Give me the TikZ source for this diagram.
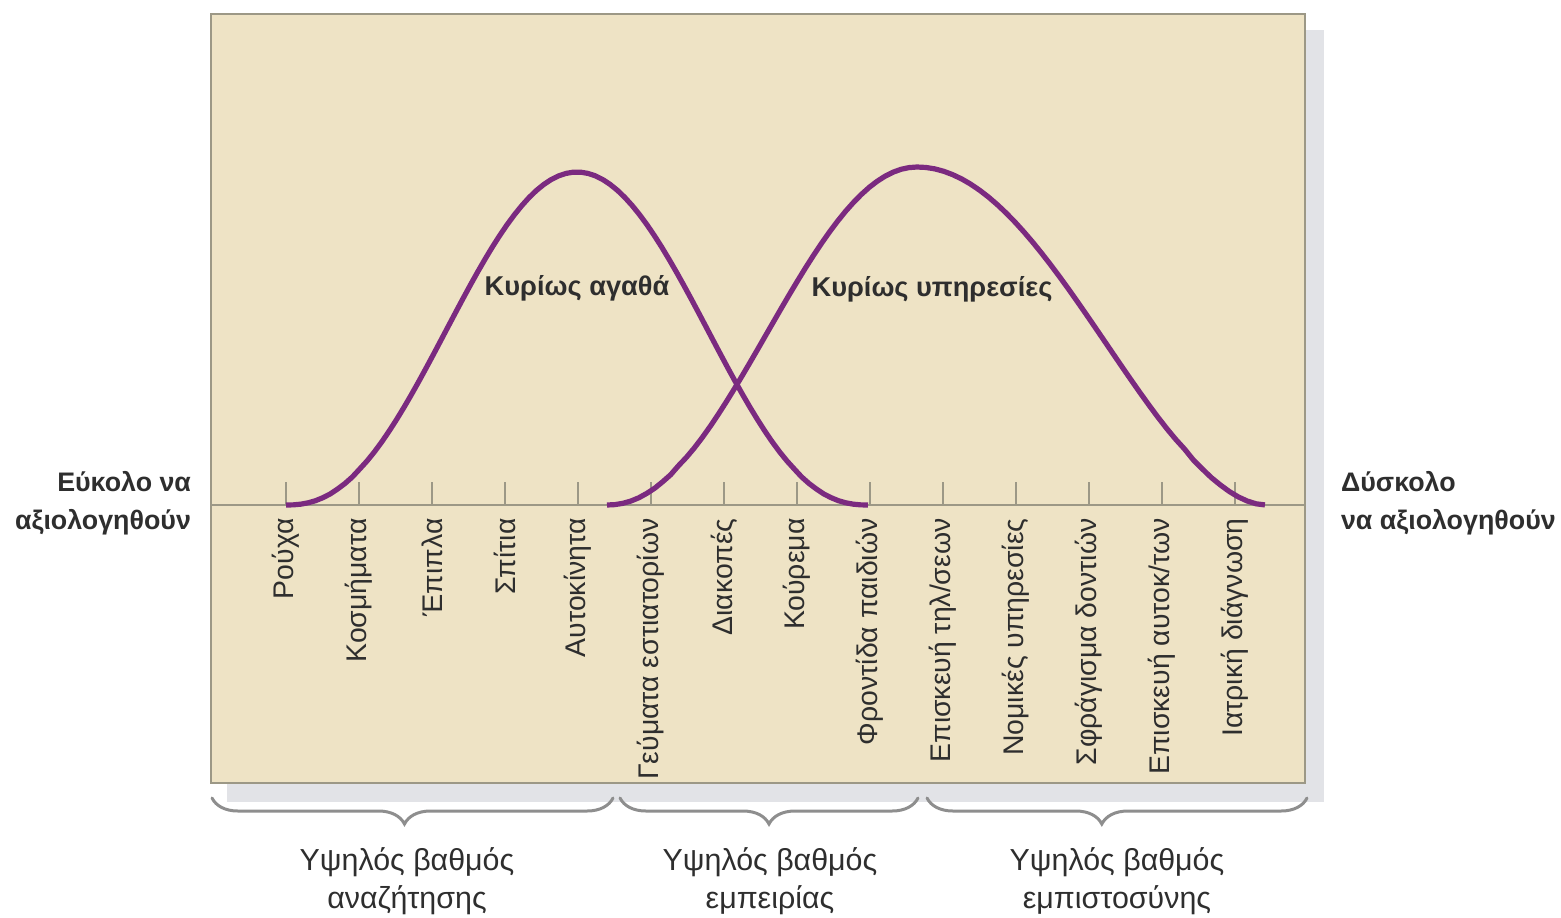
\documentclass[tikz,border=0pt]{standalone}
\usepackage{fontspec}
\setmainfont{Liberation Sans}
\usetikzlibrary{decorations.pathreplacing}
\definecolor{panel}{HTML}{EEE3C5}
\definecolor{shadowgray}{HTML}{E2E3E7}
\definecolor{frame}{HTML}{9C9886}
\definecolor{bellpurple}{HTML}{7B2A80}
\definecolor{ink}{HTML}{2E2E2E}
\definecolor{bracegray}{HTML}{8E8E8E}
\begin{document}
\begin{tikzpicture}[x=0.5pt,y=-0.5pt,
    every node/.style={text=ink},
    item/.style={rotate=90,anchor=east,inner sep=2pt,font=\fontsize{14.2}{16}\selectfont},
    side/.style={font=\bfseries\fontsize{13.4}{19}\selectfont},
    bellnote/.style={font=\bfseries\fontsize{13.6}{15}\selectfont},
    degree/.style={align=center,font=\fontsize{15.2}{19}\selectfont},
    bell/.style={bellpurple,line width=2.6pt},
    group/.style={decorate,decoration={brace,mirror,amplitude=13pt,aspect=#1},
      bracegray,line width=1.5pt,line cap=round}]
  \useasboundingbox (0,0) rectangle (1561,917);
  % panel with its shadow
  \fill[shadowgray] (227,30) rectangle (1324,802);
  \draw[frame,fill=panel,line width=0.8pt] (211,14) rectangle (1305,783);
  \draw[frame,line width=1pt] (211,505) -- (1305,505);
  % ticks and items
  \foreach \lbl [count=\i from 0] in {Ρούχα,Κοσμήματα,Έπιπλα,Σπίτια,Αυτοκίνητα,
      Γεύματα εστιατορίων,Διακοπές,Κούρεμα,Φροντίδα παιδιών,Επισκευή τηλ/σεων,
      Νομικές υπηρεσίες,Σφράγισμα δοντιών,Επισκευή αυτοκ/των,Ιατρική διάγνωση}{
    \draw[frame,line width=0.7pt] ({286+73*\i},505) -- ++(0,-23);
    \node[item] (item\i) at ({286+73*\i},514) {\lbl};
  }
  % the two bells
  \draw[bell] plot[domain=-1:1,samples=80,variable=\t]
    ({577+291*\t},{505-333*(max(1+cos(180*\t),0.0002)/2)^1.18});
  \draw[bell] plot[domain=-1:0,samples=40,variable=\t]
    ({917+310*\t},{505-338*(max(1+cos(180*\t),0.0002)/2)^1.05})
    -- plot[domain=0:1,samples=40,variable=\t]
    ({917+348*\t},{505-338*(max(1+cos(180*\t),0.0002)/2)^0.88});
  \node[bellnote] (goods) at (577,288) {Κυρίως αγαθά};
  \node[bellnote] (services) at (932,289) {Κυρίως υπηρεσίες};
  % ends of the scale
  \node[side,align=right,anchor=east] (easy) at (198,503) {Εύκολο να\\αξιολογηθούν};
  \node[side,align=left,anchor=west] (hard) at (1334,503) {Δύσκολο\\να αξιολογηθούν};
  % groups
  \coordinate (s1) at (212,798); \coordinate (e1) at (613,798);
  \coordinate (s2) at (620,798); \coordinate (e2) at (918,798);
  \coordinate (s3) at (927,798); \coordinate (e3) at (1307,798);
  \draw[group=0.48] (s1) -- (e1);
  \draw[group=0.5] (s2) -- (e2);
  \draw[group=0.46] (s3) -- (e3);
  \node[degree] (search) at (407,881) {Υψηλός βαθμός\\αναζήτησης};
  \node[degree] (experience) at (770,881) {Υψηλός βαθμός\\εμπειρίας};
  \node[degree] (credence) at (1117,881) {Υψηλός βαθμός\\εμπιστοσύνης};
\end{tikzpicture}
\end{document}
